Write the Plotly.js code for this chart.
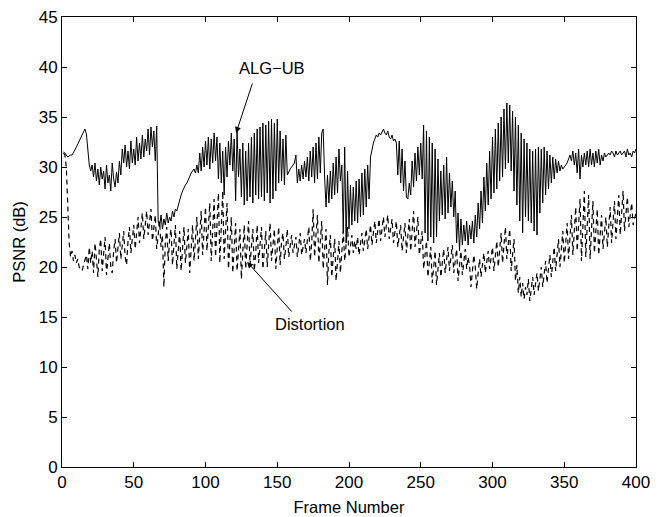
<!DOCTYPE html>
<html>
<head>
<meta charset="utf-8">
<script src="https://cdn.plot.ly/plotly-3.0.1.min.js"></script>
<style>html,body{margin:0;padding:0;background:#fff;}#chart{width:660px;height:517px;}</style>
</head>
<body>
<div id="chart"></div>
<script>
// Tick labels
const xTicks = [0, 50, 100, 150, 200, 250, 300, 350, 400];
const yTicks = [0, 5, 10, 15, 20, 25, 30, 35, 40, 45];

// ALG-UB PSNR (dB), frames 1..400
const algUB = [
31.5,31.4,31.2,31.0,31.1,31.2,31.2,31.4,31.7,32.0,
32.3,32.6,32.9,33.2,33.6,33.8,33.3,31.5,30.2,29.6,
30.2,29.0,30.4,28.6,29.8,28.2,30.0,28.8,29.6,27.8,
30.2,28.4,29.2,27.6,30.4,28.8,28.0,29.5,28.4,30.6,
29.2,31.8,30.4,32.2,30.0,31.6,29.8,32.6,30.4,31.8,
30.2,33.0,30.6,32.4,30.8,33.2,31.0,32.8,31.6,33.8,
31.2,34.0,32.0,33.6,30.6,34.1,24.6,24.0,25.2,23.8,
24.8,24.2,25.4,24.4,25.0,24.6,25.6,25.0,25.8,25.6,
26.2,26.8,27.2,27.6,28.0,28.2,28.4,28.8,29.0,29.4,
29.6,29.8,29.4,30.2,29.4,31.4,29.6,32.0,30.0,32.6,
30.2,33.0,29.8,32.8,30.4,33.4,30.6,33.0,28.8,32.4,
28.4,31.6,27.2,32.0,29.0,32.6,30.2,33.4,29.6,32.8,
26.6,33.6,29.0,31.8,27.0,32.4,26.2,31.6,26.6,32.4,
27.0,33.0,26.4,33.4,27.2,33.8,26.8,34.0,27.0,34.4,
26.6,34.2,27.4,34.6,26.4,34.8,26.8,34.4,27.6,34.8,
28.4,33.6,28.6,32.8,28.2,33.2,29.2,29.6,29.8,30.0,
30.2,30.4,31.2,28.4,29.8,28.6,30.2,28.8,30.6,29.0,
31.0,28.6,31.6,29.0,32.0,28.4,32.4,28.8,33.0,29.4,
33.4,33.8,29.0,26.0,29.2,26.4,29.6,26.8,30.4,27.2,
31.0,27.4,31.8,28.6,30.2,23.4,32.0,22.4,29.6,23.8,
28.2,24.2,28.0,24.6,28.6,24.4,28.8,25.0,29.4,25.2,
29.8,26.0,30.2,26.8,31.0,31.8,32.4,32.8,33.2,33.0,
33.4,33.2,33.6,33.8,33.4,33.2,33.6,33.0,32.8,33.2,
32.6,32.8,32.4,29.2,32.6,28.4,31.8,27.6,30.6,27.0,
26.8,28.4,27.2,30.6,28.0,31.4,28.6,32.0,29.2,32.4,
28.8,34.2,23.4,33.6,22.6,33.0,23.0,32.4,22.4,31.8,
23.0,30.8,24.6,29.6,25.2,30.2,24.8,31.0,25.4,29.4,
26.0,28.6,25.0,27.6,22.4,25.4,21.6,24.8,22.2,24.2,
22.6,24.6,22.2,24.2,22.8,24.6,22.4,25.2,23.0,26.4,
23.8,27.6,24.4,29.0,25.6,30.4,26.2,31.6,26.8,33.0,
27.4,33.8,27.8,34.4,28.6,35.0,29.0,35.8,29.8,36.4,
30.4,36.2,29.6,35.6,27.6,35.0,26.2,34.2,24.6,33.4,
23.4,32.8,25.0,32.4,24.6,31.8,24.4,31.6,23.6,31.8,
23.2,32.0,25.4,31.8,26.4,32.0,27.2,31.6,27.8,31.2,
28.4,31.0,28.8,30.8,29.4,30.6,29.6,30.2,29.8,30.0,
30.2,30.4,30.8,31.2,30.6,31.6,30.2,31.4,29.4,31.8,
28.8,31.2,30.0,31.4,30.2,31.6,30.0,31.8,30.2,31.4,
30.0,31.6,30.4,31.8,30.2,31.2,30.6,31.4,31.0,31.2,
31.4,31.2,31.6,31.4,31.0,31.6,31.2,31.4,31.6,31.2,
31.4,31.6,31.0,31.8,31.2,31.4,31.0,31.6,31.4,31.8
];

// Distortion PSNR (dB), frames 1..400
const distortion = [
31.4,31.2,30.0,25.0,22.4,21.0,21.6,20.6,21.2,20.4,
20.8,20.0,19.8,19.6,20.2,20.6,21.2,19.8,22.0,20.4,
21.6,19.4,22.4,20.8,19.0,21.8,22.8,19.6,21.2,23.0,
19.2,21.0,22.4,20.0,19.4,21.6,22.8,20.4,21.8,23.4,
20.8,22.2,23.6,21.0,20.2,22.6,24.0,21.4,22.8,24.2,
21.8,23.2,25.0,22.4,23.6,25.4,22.8,24.0,25.6,23.2,
24.4,25.8,22.6,24.0,25.2,21.8,23.6,24.6,22.0,23.2,
18.0,22.4,24.0,20.6,22.8,23.8,20.2,22.0,24.2,19.8,
21.6,23.6,19.6,21.4,24.0,20.4,22.2,23.8,19.4,21.8,
24.2,20.6,22.4,25.0,20.8,23.0,25.6,21.2,23.6,26.0,
21.6,24.2,26.4,20.6,23.8,26.8,21.0,24.4,27.4,20.4,
23.6,27.6,20.8,23.2,26.4,19.8,22.6,25.0,19.4,22.2,
24.4,19.6,21.8,23.8,18.8,21.6,24.2,19.8,22.4,24.6,
20.2,22.0,23.8,19.6,21.4,24.2,20.4,22.2,24.0,19.8,
21.6,23.6,20.0,22.4,24.4,20.6,22.2,23.8,19.8,21.8,
24.0,20.2,22.6,23.4,20.8,22.0,23.8,21.0,22.4,23.2,
21.4,22.2,23.0,21.0,22.6,23.4,21.2,22.0,22.8,21.4,
22.8,24.0,20.6,22.4,25.8,21.0,23.2,25.2,20.4,22.6,
24.6,19.8,22.0,23.8,18.2,21.6,23.2,19.0,21.0,22.8,
18.6,20.8,22.6,19.4,21.8,23.6,20.6,22.4,24.0,21.0,
22.0,23.2,21.4,22.6,21.8,23.0,21.2,22.4,23.4,21.6,
22.8,23.8,21.8,23.2,24.2,22.2,23.6,24.6,22.4,23.8,
24.8,22.6,24.0,25.0,23.0,24.2,25.2,22.8,24.0,24.8,
22.4,23.6,24.6,22.0,23.2,24.2,21.6,23.0,24.4,21.4,
22.8,24.8,21.6,23.4,25.6,22.0,23.8,25.0,21.2,22.6,
23.6,19.8,21.2,22.6,19.0,20.6,22.0,18.4,20.2,21.6,
18.2,19.8,21.4,19.0,20.6,21.8,19.4,20.8,22.0,19.6,
21.0,22.2,19.4,20.8,21.8,18.6,20.4,21.6,19.2,20.6,
21.8,19.8,21.0,20.2,18.0,19.6,21.2,20.0,17.8,19.4,
20.8,19.0,20.4,21.4,19.4,20.8,21.6,19.8,21.2,22.0,
19.6,21.4,22.6,20.0,22.0,23.4,20.4,22.6,24.0,20.8,
22.4,23.8,19.6,21.6,22.8,18.6,20.2,17.4,19.0,17.0,
18.4,16.8,18.0,17.2,18.8,16.6,17.8,19.0,17.2,18.4,
19.4,17.6,18.8,20.0,18.0,19.4,20.6,18.4,20.0,21.2,
19.0,20.8,22.0,19.6,21.4,22.8,20.0,22.2,23.6,20.4,
22.8,24.4,20.8,23.4,25.2,21.2,24.0,26.0,21.6,24.4,
26.8,20.6,24.0,27.6,21.0,24.6,27.2,20.8,24.2,26.6,
21.4,23.8,25.8,21.2,23.4,25.2,21.8,23.6,25.0,22.0,
24.2,26.0,22.4,24.6,26.6,22.8,25.0,27.2,23.2,25.6,
27.6,23.6,25.8,27.0,24.0,25.6,26.4,24.2,24.8,25.4
];

const frames = algUB.map((_, i) => i + 1);

const FONT = 'Liberation Sans, Arial, Helvetica, sans-serif';

const traces = [
  {x: frames, y: algUB, type: 'scatter', mode: 'lines', name: 'ALG-UB',
   line: {color: '#000', width: 1}},
  {x: frames, y: distortion, type: 'scatter', mode: 'lines', name: 'Distortion',
   line: {color: '#000', width: 1.2, dash: '5px,4px'}}
];

const axisCommon = {
  showline: true, linecolor: '#000', linewidth: 1, mirror: 'ticks',
  ticks: 'inside', ticklen: 5, tickcolor: '#000', tickwidth: 1,
  showgrid: false, zeroline: false,
  tickfont: {family: FONT, size: 17, color: '#000'}
};

const layout = {
  width: 660, height: 517,
  margin: {l: 62, r: 24, t: 17, b: 50},
  paper_bgcolor: '#fff', plot_bgcolor: '#fff',
  showlegend: false,
  font: {family: FONT, color: '#000'},
  xaxis: Object.assign({}, axisCommon, {
    range: [0, 400], tickvals: xTicks,
    title: {text: 'Frame Number', font: {family: FONT, size: 16.5, color: '#000'}, standoff: 10}
  }),
  yaxis: Object.assign({}, axisCommon, {
    range: [0, 45], tickvals: yTicks,
    title: {text: 'PSNR (dB)', font: {family: FONT, size: 16.5, color: '#000'}, standoff: 8}
  }),
  annotations: [
    {x: 146, y: 39.9, xref: 'x', yref: 'y', text: 'ALG\u2212UB', showarrow: false,
     font: {family: FONT, size: 16.5, color: '#000'}},
    {x: 121.3, y: 33.4, xref: 'x', yref: 'y', ax: 133, ay: 38.5, axref: 'x', ayref: 'y',
     text: '', showarrow: true, arrowhead: 2, arrowsize: 1.2, arrowwidth: 1, arrowcolor: '#000'},
    {x: 173, y: 14.3, xref: 'x', yref: 'y', text: 'Distortion', showarrow: false,
     font: {family: FONT, size: 16.5, color: '#000'}},
    {x: 129, y: 20.5, xref: 'x', yref: 'y', ax: 161, ay: 15.4, axref: 'x', ayref: 'y',
     text: '', showarrow: true, arrowhead: 2, arrowsize: 1.2, arrowwidth: 1, arrowcolor: '#000'}
  ]
};

Plotly.newPlot('chart', traces, layout, {displayModeBar: false, staticPlot: true});
</script>
</body>
</html>
